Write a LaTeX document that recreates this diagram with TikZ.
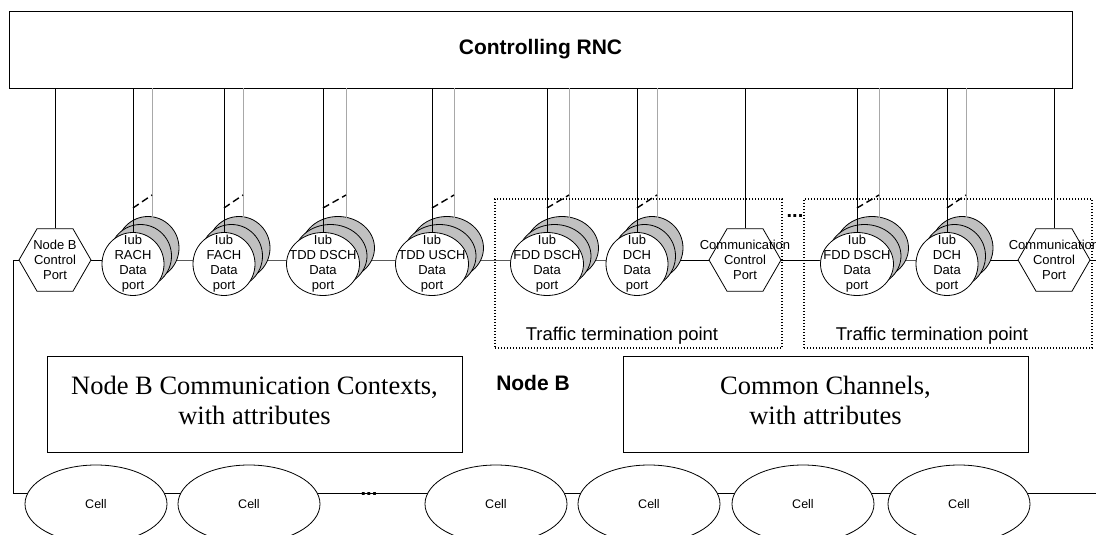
\documentclass[tikz,border=0pt]{standalone}
\usepackage{fontspec}
\setmainfont{Liberation Serif}
\setsansfont{Liberation Sans}
\usetikzlibrary{shapes.geometric,backgrounds}
\definecolor{backgray}{HTML}{C0C0C0}
\definecolor{wiregray}{HTML}{A8A8A8}
\tikzset{
  link/.style={line width=0.8pt},
  graywire/.style={line width=0.8pt, wiregray},
  dashwire/.style={line width=1.4pt, dash pattern=on 7pt off 4pt},
  portback/.style={draw, fill=backgray, line width=0.8pt},
  portfront/.style={ellipse, draw, fill=white, line width=0.8pt, inner sep=0pt, minimum height=63pt},
  portlabel/.style={font=\sffamily\fontsize{13}{15}\selectfont, align=center, inner sep=0pt},
  hexa/.style={regular polygon, regular polygon sides=6, draw, fill=white, line width=0.8pt, minimum size=72pt, inner sep=0pt},
  ttp/.style={draw, line width=1.4pt, dash pattern=on 1.4pt off 1.6pt, inner sep=0pt},
  ttplabel/.style={font=\sffamily\fontsize{18.5}{20}\selectfont},
  bigbox/.style={draw, line width=1pt, inner sep=0pt, minimum height=96pt},
  bigtext/.style={font=\fontsize{26.5}{30}\selectfont, align=center, inner sep=0pt},
  cell/.style={ellipse, draw, fill=white, line width=0.8pt, minimum width=142pt, minimum height=78pt, inner sep=0pt, font=\sffamily\fontsize{12.5}{14}\selectfont},
  dotsl/.style={font=\sffamily\bfseries\fontsize{20}{20}\selectfont, inner sep=0pt},
  boldlabel/.style={font=\sffamily\bfseries\fontsize{21}{24}\selectfont},
}
\newcommand{\dataport}[5]{%
  \path[portback] ({#2+15},248) ellipse [x radius=#3pt, y radius=31.5pt];
  \path[portback] ({#2+7.5},256) ellipse [x radius=#3pt, y radius=31.5pt];
  \node[portfront, minimum width={2*#3pt}] (#1) at (#2,264) {};
  \node[portlabel] (#1t) at (#1) {#4};
  \coordinate (#1c) at (#2,260);
  \coordinate (#1gx) at ({#2+#5},218);
  \coordinate (#1da) at (#2,208);
  \coordinate (#1db) at ({#2+#5},195);
  \draw[graywire] (rnc.south -| #1gx) -- (#1gx);
  \draw[dashwire] (#1da) -- (#1db);
  \draw[link] (rnc.south -| #1) -- (#1.north);
}
\begin{document}
\begin{tikzpicture}[x=1pt,y=-1pt]
\useasboundingbox (0,0) rectangle (1096,535);
\node[draw, line width=0.8pt, minimum width=1063pt, minimum height=77pt, inner sep=0pt, boldlabel] (rnc) at (540.5,49.5) {Controlling RNC};

% hexagon control ports
\node[hexa] (nbcp) at (55,260) {};
\node[portlabel] (nbcpt) at (nbcp) {Node B\\Control\\Port};
\draw[link] (rnc.south -| nbcp) -- (nbcp.north);

% data ports
\dataport{rach}{133}{31}{Iub\\RACH\\Data\\port}{19}
\dataport{fach}{224}{31}{Iub\\FACH\\Data\\port}{19}
\dataport{tdds}{323}{36.5}{Iub\\TDD DSCH\\Data\\port}{23}
\dataport{tddu}{432}{36.5}{Iub\\TDD USCH\\Data\\port}{22}
\dataport{fdda}{547}{36.5}{Iub\\FDD DSCH\\Data\\port}{22}
\dataport{dcha}{637}{31}{Iub\\DCH\\Data\\port}{20}
\dataport{fddb}{857}{36.5}{Iub\\FDD DSCH\\Data\\port}{22}
\dataport{dchb}{947}{31}{Iub\\DCH\\Data\\port}{19}

\node[hexa] (ccpa) at (745,260) {};
\node[portlabel] (ccpat) at (ccpa) {Communication\\Control\\Port};
\draw[link] (rnc.south -| ccpa) -- (ccpa.north);
\node[hexa] (ccpb) at (1054,260) {};
\node[portlabel] (ccpbt) at (ccpb) {Communication\\Control\\Port};
\draw[link] (rnc.south -| ccpb) -- (ccpb.north);

% traffic termination points
\node[ttp, minimum width=287pt, minimum height=149pt] (ttpa) at (638.5,273.5) {};
\node[ttp, minimum width=288pt, minimum height=149pt] (ttpb) at (948,273.5) {};
\node[ttplabel] (ttpat) at (622,336) {Traffic termination point};
\node[ttplabel] (ttpbt) at (932,336) {Traffic termination point};
\node[dotsl] (dotsa) at (795,216) {...};

% boxes
\node[bigbox, minimum width=415pt] (ctx) at (254.5,404) {};
\node[bigtext] (ctxt) at (254.5,400) {Node B Communication Contexts,\\with attributes};
\node[bigbox, minimum width=405pt] (cch) at (825.5,404) {};
\node[bigtext] (ccht) at (825.5,400) {Common Channels,\\with attributes};
\node[boldlabel] (nodeb) at (533,383) {Node B};

% cells
\foreach \i/\x in {1/96,2/249,3/496,4/649,5/803,6/959}
  \node[cell] (cell\i) at (\x,504) {Cell};
\node[dotsl] (dotsb) at (369,494) {...};

\coordinate (lcorner) at (13,260);
\coordinate (lbottom) at (13,493);
\coordinate (rbottom) at (1096,493);
\coordinate (rend) at (1096,260);
\begin{pgfonlayer}{background}
\draw[link] (nbcp.west) -- (lcorner) -- (lbottom) -- (rbottom);
\draw[link] (nbcp.east) -- (rachc) -- (fachc) -- (tddsc) -- (tdduc) -- (fddac) -- (dchac) -- (ccpa) -- (fddbc) -- (dchbc) -- (ccpb) -- (rend);
\end{pgfonlayer}
\end{tikzpicture}
\end{document}
